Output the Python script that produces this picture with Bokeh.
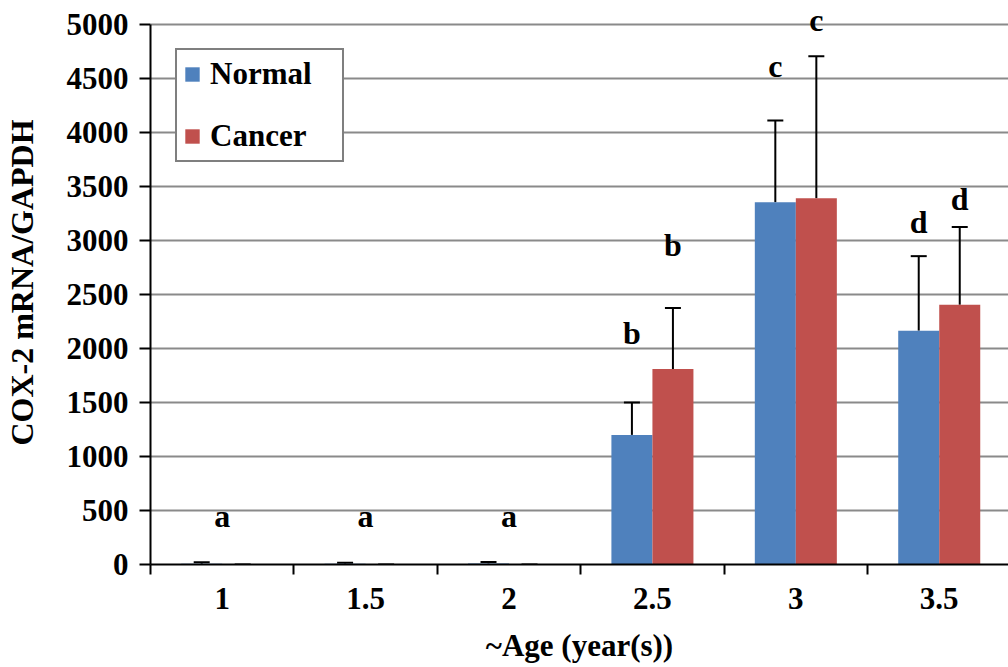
from bokeh.plotting import figure
from bokeh.models import (Range1d, FixedTicker, Whisker, ColumnDataSource, TeeHead,
                          Legend, LegendItem, LabelSet)
from bokeh.core.properties import value
from bokeh.embed import file_html
from bokeh.resources import INLINE

# ---- data ----
age_labels = ["1", "1.5", "2", "2.5", "3", "3.5"]
normal = [8, 6, 10, 1200, 3355, 2165]
normal_err = [12, 10, 14, 300, 755, 690]
cancer = [0, 0, 0, 1810, 3390, 2405]
cancer_err = [0, 0, 0, 565, 1315, 720]
y_ticks = [0, 500, 1000, 1500, 2000, 2500, 3000, 3500, 4000, 4500, 5000]

sig_text = ["a", "a", "a", "b", "b", "c", "c", "d", "d"]
sig_age = ["1", "1.5", "2", "2.5", "2.5", "3", "3", "3.5", "3.5"]
sig_series = ["both", "both", "both", "Normal", "Cancer", "Normal", "Cancer", "Normal", "Cancer"]
sig_y = [445, 445, 445, 2142, 2960, 4617, 5042, 3173, 3380]

BLUE = "#4F81BD"
RED = "#C0504D"
FONT = "Liberation Serif"
BAR_W = 0.286
OFF = BAR_W / 2

pos = [i + 1 for i in range(len(age_labels))]
xn = [p - OFF for p in pos]
xc = [p + OFF for p in pos]

p = figure(width=1008, height=667, output_backend="svg", toolbar_location=None,
           x_range=Range1d(0.5, 6.483), y_range=Range1d(0, 5222),
           min_border_left=150, min_border_right=0, min_border_top=0, min_border_bottom=103)
p.outline_line_color = None
p.background_fill_color = "white"
p.border_fill_color = "white"

src_n = ColumnDataSource(dict(x=xn, top=normal, upper=[v + e for v, e in zip(normal, normal_err)]))
src_c = ColumnDataSource(dict(x=xc, top=cancer, upper=[v + e for v, e in zip(cancer, cancer_err)]))

rn = p.vbar(x="x", top="top", bottom=0, width=BAR_W, source=src_n, fill_color=BLUE, line_color=None)
rc = p.vbar(x="x", top="top", bottom=0, width=BAR_W, source=src_c, fill_color=RED, line_color=None)

for src in (src_n, src_c):
    w = Whisker(source=src, base="x", lower="top", upper="upper", dimension="height",
                line_color="black", line_width=2, lower_head=None,
                upper_head=TeeHead(size=16, line_width=2, line_color="black"))
    p.add_layout(w)

# significance letters
off_map = {"both": 0.0, "Normal": -OFF, "Cancer": OFF}
sig_x = [age_labels.index(a) + 1 + off_map[s] for a, s in zip(sig_age, sig_series)]
sig_src = ColumnDataSource(dict(x=sig_x, y=sig_y, text=sig_text))
ls = LabelSet(x="x", y="y", text="text", source=sig_src, text_align="center",
              text_baseline="middle", text_font=value(FONT), text_font_style="bold",
              text_font_size="32px", text_color="black")
p.add_layout(ls)

# axes
xa = p.xaxis[0]
xa.ticker = FixedTicker(ticks=pos, minor_ticks=[0.5, 1.5, 2.5, 3.5, 4.5, 5.5, 6.5])
xa.major_label_overrides = {pp: lab for pp, lab in zip(pos, age_labels)}
xa.major_tick_out = 0
xa.major_tick_in = 0
xa.minor_tick_out = 10
xa.minor_tick_in = 0
xa.minor_tick_line_color = "black"
xa.minor_tick_line_width = 2
xa.axis_line_color = "black"
xa.axis_line_width = 2
xa.major_label_text_font = FONT
xa.major_label_text_font_style = "bold"
xa.major_label_text_font_size = "31px"
xa.major_label_text_color = "black"
xa.major_label_standoff = 13
xa.axis_label = "~Age (year(s))"
xa.axis_label_text_font = FONT
xa.axis_label_text_font_style = "bold"
xa.axis_label_text_font_size = "31px"
xa.axis_label_text_color = "black"
xa.axis_label_standoff = 16

ya = p.yaxis[0]
ya.ticker = FixedTicker(ticks=y_ticks)
ya.bounds = (0, 5000)
ya.minor_tick_line_color = None
ya.major_tick_out = 11
ya.major_tick_in = 0
ya.major_tick_line_color = "black"
ya.major_tick_line_width = 2
ya.axis_line_color = "black"
ya.axis_line_width = 2
ya.major_label_text_font = FONT
ya.major_label_text_font_style = "bold"
ya.major_label_text_font_size = "31px"
ya.major_label_text_color = "black"
ya.major_label_standoff = 11
ya.axis_label = "COX-2 mRNA/GAPDH"
ya.axis_label_text_font = FONT
ya.axis_label_text_font_style = "bold"
ya.axis_label_text_font_size = "32px"
ya.axis_label_text_color = "black"
ya.axis_label_standoff = 24

p.xgrid.grid_line_color = None
p.ygrid.ticker = FixedTicker(ticks=y_ticks)
p.ygrid.grid_line_color = "#8a8a8a"
p.ygrid.grid_line_width = 2

legend = Legend(items=[LegendItem(label="Normal", renderers=[rn]),
                       LegendItem(label="Cancer", renderers=[rc])],
                location=(25, 402))
legend.label_text_font = FONT
legend.label_text_font_style = "bold"
legend.label_text_font_size = "31px"
legend.label_text_color = "black"
legend.glyph_width = 18
legend.glyph_height = 18
legend.label_standoff = 9
legend.label_height = 26
legend.label_width = 126
legend.spacing = 26
legend.padding = 6
legend.margin = 0
legend.border_line_color = "black"
legend.border_line_width = 2
legend.background_fill_color = "white"
legend.background_fill_alpha = 1.0
p.add_layout(legend)

open("out.html", "w").write(file_html(p, INLINE))
